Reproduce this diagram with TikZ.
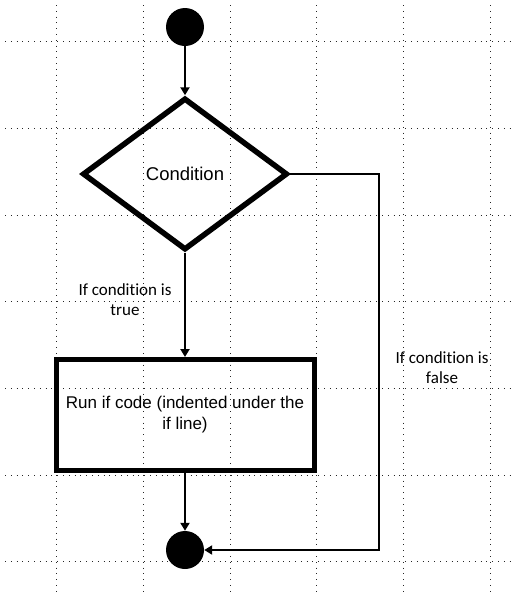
\documentclass[tikz,border=0pt]{standalone}
\usepackage{fontspec}
\setmainfont{Liberation Sans}
\newfontfamily\calibri[Ligatures=NoCommon]{Carlito}
\usetikzlibrary{shapes.geometric,arrows.meta}

\tikzset{
    gridline/.style={line width=0.9pt, black!85, dash pattern=on 1pt off 4.8pt},
    flow/.style={line width=2pt, -{Triangle[length=8pt,width=9pt]}},
    dot/.style={circle, fill=black, minimum size=38pt, inner sep=0pt},
    decision/.style={diamond, draw, line width=5.5pt, minimum width=205pt, minimum height=152pt, inner sep=0pt},
    process/.style={rectangle, draw, line width=5pt, minimum width=258pt, minimum height=111pt, align=center},
    armtext/.style={font=\fontsize{18.5}{20.5}\selectfont},
    runtext/.style={font=\fontsize{17}{21}\selectfont},
    caltext/.style={font=\calibri\fontsize{17}{20}\selectfont, align=center}
}

\begin{document}
\begin{tikzpicture}[x=1pt,y=-1pt]
    \useasboundingbox (0,0) rectangle (511,595);
    \foreach \i in {0,...,5}
        \draw[gridline] ({56.7+86.7*\i},5) -- ({56.7+86.7*\i},595);
    \foreach \j in {0,...,6}
        \draw[gridline] (5,{41.7+86.7*\j}) -- (511,{41.7+86.7*\j});

    \node[dot] at (185,27)(start) {};
    \node[decision, armtext] at (185,174)(cond) {Condition};
    \node[process, runtext] at (185,415)(run) {Run if code (indented under the\\if line)};
    \node[dot] at (185,550)(stop) {};
    \coordinate (turn) at (379,174);

    \node[caltext] at (125,300)(yes) {If condition is\\true};
    \node[caltext] at (442,368)(no) {If condition is\\false};

    \draw[flow] (start) -- (cond.north);
    \draw[flow] (cond.south) -- (run.north);
    \draw[flow] (run.south) -- (stop.north);
    \draw[flow] (cond.east) -- (turn) |- (stop.east);
\end{tikzpicture}
\end{document}
